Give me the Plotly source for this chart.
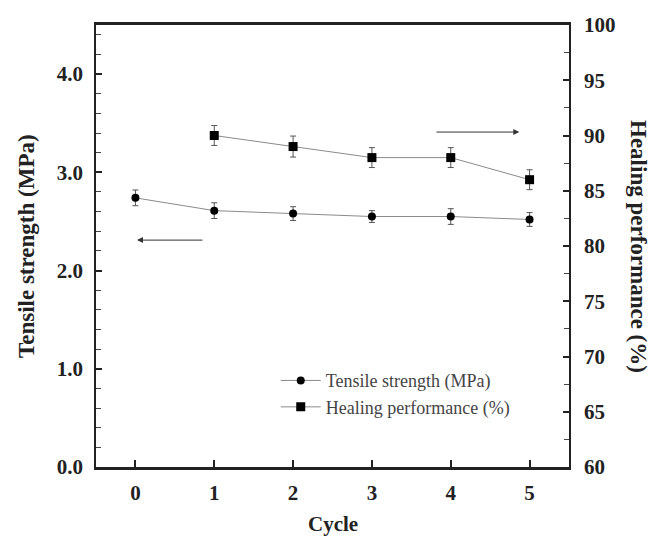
import plotly.graph_objects as go

cycles_ts = [0, 1, 2, 3, 4, 5]
tensile = [2.74, 2.61, 2.58, 2.55, 2.55, 2.52]
tensile_err = [0.08, 0.08, 0.07, 0.06, 0.08, 0.07]

cycles_hp = [1, 2, 3, 4, 5]
healing = [90.0, 89.0, 88.0, 88.0, 86.0]
healing_err = [0.9, 0.95, 0.9, 0.9, 0.9]

x_ticks = [0, 1, 2, 3, 4, 5]

serif = "Liberation Serif"
line_gray = "#8a8a8a"

fig = go.Figure()
fig.add_trace(go.Scatter(
    x=cycles_ts, y=tensile, mode="lines+markers", name="Tensile strength (MPa)",
    line=dict(color=line_gray, width=1),
    marker=dict(symbol="circle", size=8, color="black"),
    error_y=dict(type="data", array=tensile_err, color="#555", thickness=1, width=3),
    yaxis="y"))
fig.add_trace(go.Scatter(
    x=cycles_hp, y=healing, mode="lines+markers", name="Healing performance (%)",
    line=dict(color=line_gray, width=1),
    marker=dict(symbol="square", size=9, color="black"),
    error_y=dict(type="data", array=healing_err, color="#555", thickness=1, width=3),
    yaxis="y2"))

tickfont = dict(family=serif, size=21, color="#222", weight="bold")
titlefont = dict(family=serif, size=23, color="#222", weight="bold")

fig.update_layout(
    width=651, height=539,
    margin=dict(l=96, r=82, t=25, b=72, autoexpand=False),
    paper_bgcolor="white", plot_bgcolor="white",
    font=dict(family=serif),
    showlegend=True,
    legend=dict(x=0.38, y=0.237, xanchor="left", yanchor="top",
                font=dict(family=serif, size=18, color="#444"),
                bgcolor="rgba(0,0,0,0)", itemwidth=40),
    xaxis=dict(range=[-0.5, 5.5], tickvals=x_ticks, ticks="inside", ticklen=7,
               tickwidth=1.5, tickcolor="#222", automargin=False,
               showline=True, linecolor="#222", linewidth=2.5, mirror=True,
               showgrid=False, zeroline=False, tickfont=tickfont,
               ticklabelstandoff=5),
    yaxis=dict(range=[0, 4.5], dtick=1.0, tick0=0, tickformat=".1f", ticks="inside",
               ticklen=6, tickwidth=1.5, tickcolor="#222", automargin=False,
               minor=dict(dtick=0.2, ticks="inside", ticklen=5, tickcolor="#444", tickwidth=1),
               showline=True, linecolor="#222", linewidth=1.5,
               showgrid=False, zeroline=False, tickfont=tickfont, ticklabelstandoff=7),
    yaxis2=dict(range=[60, 100], dtick=5, tick0=60, overlaying="y", side="right",
                ticks="inside", ticklen=6, tickwidth=1.5, tickcolor="#222", automargin=False,
                minor=dict(dtick=2.5, ticks="inside", ticklen=5, tickcolor="#444", tickwidth=1),
                showline=True, linecolor="#222", linewidth=1.5,
                showgrid=False, zeroline=False, tickfont=tickfont, ticklabelstandoff=9),
)

# axis titles
fig.add_annotation(x=0.5, y=(467 - 524) / 442.0, xref="paper", yref="paper", text="Cycle",
                   showarrow=False, font=dict(family=serif, size=21, color="#222", weight="bold"),
                   xanchor="center", yanchor="middle")
fig.add_annotation(x=(26 - 96) / 473.0, y=0.5, xref="paper", yref="paper",
                   text="Tensile strength (MPa)", textangle=-90, showarrow=False,
                   font=titlefont, xanchor="center", yanchor="middle")
fig.add_annotation(x=(639 - 96) / 473.0, y=0.5, xref="paper", yref="paper",
                   xanchor="center", yanchor="middle",
                   text="Healing performance (%)", textangle=90, showarrow=False,
                   font=titlefont)

# direction arrows
fig.add_annotation(x=0.02, y=2.31, ax=0.87, ay=2.31, xref="x", yref="y", axref="x", ayref="y",
                   text="", showarrow=True, arrowhead=2, arrowsize=1.2, arrowwidth=1,
                   arrowcolor="#333")
fig.add_annotation(x=4.87, y=3.41, ax=3.8, ay=3.41, xref="x", yref="y", axref="x", ayref="y",
                   text="", showarrow=True, arrowhead=2, arrowsize=1.2, arrowwidth=1,
                   arrowcolor="#333")

fig.write_html("out.html")
